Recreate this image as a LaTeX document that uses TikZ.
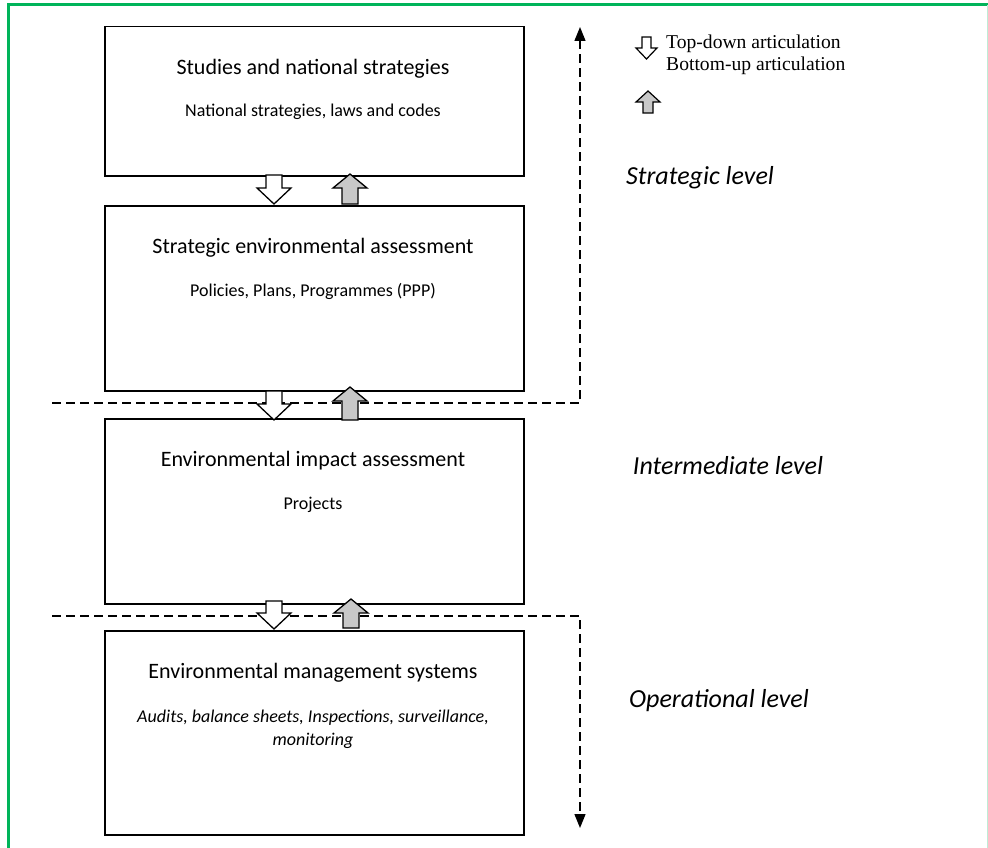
\documentclass[tikz,border=0pt]{standalone}
\usepackage{fontspec}
\setmainfont{Carlito}
\newfontfamily\legendfont{Liberation Serif}
\usetikzlibrary{arrows.meta}

\definecolor{frameGreen}{RGB}{0,180,90}
\definecolor{upGrey}{RGB}{200,200,200}

% block arrow pointing down: x, top y, tip y
\newcommand\dnblock[3]{\draw[blk,fill=white] (#1-8,#2) -- (#1+8,#2) -- (#1+8,#3-16) -- (#1+17,#3-16) -- (#1,#3) -- (#1-17,#3-16) -- (#1-8,#3-16) -- cycle;}
% block arrow pointing up: x, tip y, bottom y
\newcommand\upblock[3]{\draw[blk,fill=upGrey] (#1,#2) -- (#1+17,#2+14) -- (#1+8,#2+14) -- (#1+8,#3) -- (#1-8,#3) -- (#1-8,#2+14) -- (#1-17,#2+14) -- cycle;}

\begin{document}
\begin{tikzpicture}[x=1pt,y=-1pt,
  box/.style={draw=black, line width=1.5pt, anchor=north west, minimum width=419pt, inner sep=0pt},
  title/.style={font=\fontsize{22}{26}\selectfont, anchor=center},
  sub/.style={font=\fontsize{18}{22}\selectfont, anchor=center, align=center},
  level/.style={font=\fontsize{26}{30}\selectfont\itshape, anchor=center},
  legend/.style={font=\legendfont\fontsize{19.6}{22}\selectfont, anchor=base west, inner sep=0pt},
  blk/.style={draw=black, line width=1.3pt, line join=miter},
  levelline/.style={draw=black, line width=1.4pt, dash pattern=on 9pt off 5pt},
  tip/.style={-{Triangle[width=11pt,length=14pt]}}
]
\useasboundingbox (0,0) rectangle (988,848);
\fill[white] (0,0) rectangle (988,848);

% frame
\draw[frameGreen, line width=3pt] (8,848) -- (8,5) -- (988,5);
\draw[frameGreen!25, line width=1pt] (987,5) -- (987,848);

% boxes
\node[box, minimum height=149pt] (b1) at (104,26) {};
\node[box, minimum height=185pt] (b2) at (104,205) {};
\node[box, minimum height=185pt] (b3) at (104,418) {};
\node[box, minimum height=204pt] (b4) at (104,630) {};

% box texts
\node[title] (t1) at (313,69) {Studies and national strategies};
\node[sub] (s1) at (313,112) {National strategies, laws and codes};
\node[title] (t2) at (313,248) {Strategic environmental assessment};
\node[sub] (s2) at (313,291) {Policies, Plans, Programmes (PPP)};
\node[title] (t3) at (313,461) {Environmental impact assessment};
\node[sub] (s3) at (313,505) {Projects};
\node[title] (t4) at (313,673) {Environmental management systems};
\node[sub, font=\fontsize{18}{23}\selectfont\itshape] (s4) at (313,729) {Audits, balance sheets, Inspections, surveillance,\\monitoring};

% level separators
\coordinate (topEnd) at (580,27);
\coordinate (botEnd) at (580,828);
\coordinate (l1a) at (52,403);
\coordinate (l1b) at (580,403);
\coordinate (l2a) at (52,616);
\coordinate (l2b) at (580,616);
\draw[levelline, tip] (l1a) -- (l1b) -- (topEnd);
\draw[levelline, tip] (l2a) -- (l2b) -- (botEnd);

% articulation arrows
\dnblock{274}{175}{204}
\upblock{350}{174}{204}
\dnblock{274}{391}{420}
\upblock{350}{387}{420}
\dnblock{274}{601}{629}
\upblock{351}{599}{628}

% level labels
\node[level] (lv1) at (700,178) {Strategic level};
\node[level] (lv2) at (728,466) {Intermediate level};
\node[level] (lv3) at (719,701) {Operational level};

% legend
\draw[blk, line width=1.2pt, fill=white] (642,37) -- (651,37) -- (651,48) -- (657,48) -- (646.5,59) -- (636,48) -- (642,48) -- cycle;
\draw[blk, line width=1.2pt, fill=upGrey] (648,91) -- (660,102) -- (653,102) -- (653,113) -- (643,113) -- (643,102) -- (636,102) -- cycle;
\node[legend] (lg1) at (666,49) {Top-down articulation};
\node[legend] (lg2) at (666,71) {Bottom-up articulation};
\end{tikzpicture}
\end{document}
